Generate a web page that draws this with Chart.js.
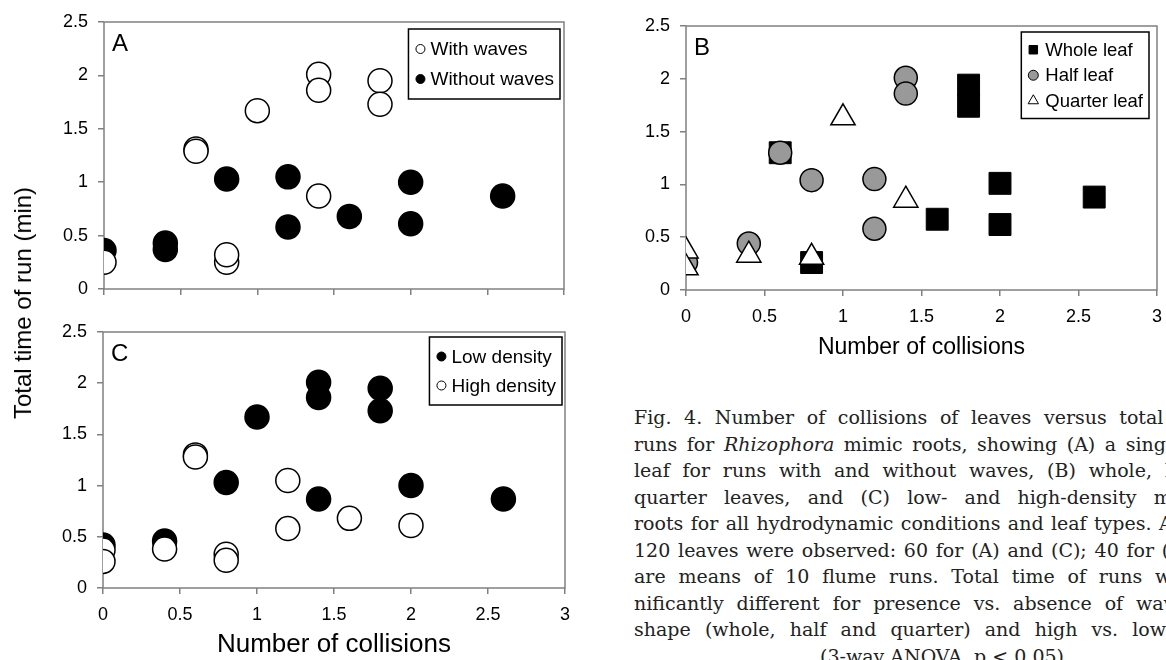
<!DOCTYPE html>
<html>
<head>
<meta charset="utf-8">
<script src="https://cdn.jsdelivr.net/npm/chart.js@4.4.1/dist/chart.umd.min.js"></script>
<style>
  body { margin: 0; width: 1166px; height: 660px; overflow: hidden; background: #fff; position: relative;
         font-family: "Liberation Sans", Arial, sans-serif; }
  canvas { position: absolute; }
  #ytitle { position: absolute; left: 23px; top: 303px; transform: translate(-50%, -50%) rotate(-90deg);
            white-space: nowrap; font-size: 24px; color: #000; }
  #caption { position: absolute; left: 634px; top: 404px; width: 616px;
             font-family: "DejaVu Serif", serif; font-size: 19px; line-height: 26.5px; color: #222; }
  #caption div { text-align: justify; text-align-last: justify; white-space: nowrap; }
  #caption div.last { text-align: center; text-align-last: center; }
</style>
</head>
<body>
<canvas id="chartA" width="556" height="310" style="left:30px;top:0px;width:556px;height:310px"></canvas>
<canvas id="chartB" width="569" height="375" style="left:610px;top:0px;width:569px;height:375px"></canvas>
<canvas id="chartC" width="557" height="356" style="left:30px;top:304px;width:557px;height:356px"></canvas>
<div id="ytitle">Total time of run (min)</div>
<div id="caption">
  <div>Fig. 4. Number of collisions of leaves versus total time of</div>
  <div>runs for <i>Rhizophora</i> mimic roots, showing (A) a single whole</div>
  <div>leaf for runs with and without waves, (B) whole, half and</div>
  <div>quarter leaves, and (C) low- and high-density mangrove</div>
  <div>roots for all hydrodynamic conditions and leaf types. A total of</div>
  <div>120 leaves were observed: 60 for (A) and (C); 40 for (B). Data</div>
  <div>are means of 10 flume runs. Total time of runs were sig-</div>
  <div>nificantly different for presence vs. absence of waves, leaf</div>
  <div>shape (whole, half and quarter) and high vs. low density</div>
  <div class="last">(3-way ANOVA, p &lt; 0.05)</div>
</div>
<script>
const xTickLabels = ['0', '0.5', '1', '1.5', '2', '2.5', '3'];
const yTickLabels = ['0', '0.5', '1', '1.5', '2', '2.5'];

// Panel A: with / without waves
const aWithX = [0, 0.6, 0.6, 0.8, 0.8, 1.0, 1.4, 1.4, 1.4, 1.8, 1.8];
const aWithY = [0.25, 1.31, 1.29, 0.25, 0.32, 1.67, 2.01, 1.86, 0.87, 1.95, 1.73];
const aWithoutX = [0, 0.4, 0.4, 0.8, 1.2, 1.2, 1.6, 2.0, 2.0, 2.6];
const aWithoutY = [0.36, 0.43, 0.37, 1.03, 1.05, 0.58, 0.68, 1.0, 0.61, 0.87];

// Panel B: leaf shape
const bWholeX = [0.6, 0.8, 1.6, 1.8, 1.8, 2.0, 2.0, 2.6];
const bWholeY = [1.30, 0.26, 0.67, 1.94, 1.74, 1.01, 0.62, 0.88];
const bHalfX = [0, 0.4, 0.6, 0.8, 1.2, 1.2, 1.4, 1.4];
const bHalfY = [0.26, 0.44, 1.30, 1.04, 1.05, 0.58, 2.01, 1.86];
const bQuarterX = [0, 0, 0.4, 0.8, 1.0, 1.4];
const bQuarterY = [0.37, 0.21, 0.33, 0.31, 1.63, 0.85];

// Panel C: root density
const cLowX = [0, 0.4, 0.8, 1.0, 1.4, 1.4, 1.4, 1.8, 1.8, 2.0, 2.6];
const cLowY = [0.42, 0.46, 1.03, 1.67, 2.01, 1.86, 0.87, 1.95, 1.73, 1.0, 0.87];
const cHighX = [0, 0, 0.4, 0.6, 0.6, 0.8, 0.8, 1.2, 1.2, 1.6, 2.0];
const cHighY = [0.37, 0.26, 0.38, 1.30, 1.28, 0.33, 0.27, 1.05, 0.58, 0.68, 0.61];

function pts(xs, ys) {
  return xs.map((x, i) => ({ x: x, y: ys[i] }));
}

const AXIS = '#808080';
const SANS = '"Liberation Sans", Arial, sans-serif';

// frame, panel letter and boxed legend
const decor = {
  id: 'decor',
  beforeDatasetsDraw(chart) {
    const { ctx, chartArea: a } = chart;
    ctx.save();
    ctx.strokeStyle = AXIS;
    ctx.lineWidth = 1.5;
    ctx.strokeRect(a.left, a.top, a.right - a.left, a.bottom - a.top);
    ctx.restore();
  },
  afterDraw(chart, args, opts) {
    const { ctx, chartArea: a } = chart;
    ctx.save();
    ctx.fillStyle = '#000';
    ctx.font = '24px ' + SANS;
    ctx.textBaseline = 'middle';
    ctx.fillText(opts.letter, a.left + 8, a.top + 22);

    ctx.font = opts.fontSize + 'px ' + SANS;
    const items = opts.items;
    let tw = 0;
    items.forEach(it => { tw = Math.max(tw, ctx.measureText(it.label).width); });
    const w = opts.markerGap + tw + 6;
    const h = items.length * opts.rowH + 10;
    const x0 = a.right - opts.right - w;
    const y0 = a.top + opts.top;
    ctx.fillStyle = '#fff';
    ctx.fillRect(x0, y0, w, h);
    ctx.strokeStyle = '#000';
    ctx.lineWidth = 1.5;
    ctx.strokeRect(x0, y0, w, h);
    items.forEach((it, i) => {
      const cy = y0 + 5 + opts.rowH * (i + 0.5);
      ctx.fillStyle = it.fill;
      ctx.strokeStyle = '#000';
      ctx.lineWidth = 1;
      Chart.helpers.drawPoint(ctx, { pointStyle: it.style, radius: it.r, rotation: 0, borderWidth: 1 }, x0 + 12, cy);
      ctx.fillStyle = '#000';
      ctx.fillText(it.label, x0 + opts.markerGap, cy + 1);
    });
    ctx.restore();
  }
};

function scales(showX, yWidth, xHeight, xTitle, titleSize, titlePad) {
  return {
    x: {
      type: 'linear', min: 0, max: 3,
      border: { display: false },
      grid: { drawOnChartArea: false, drawTicks: true, tickLength: 6, color: AXIS, lineWidth: 1.5 },
      ticks: {
        stepSize: 0.5, padding: 10, color: '#000',
        font: { size: 18, family: SANS },
        callback: (v, i) => (showX ? xTickLabels[i] : '')
      },
      title: {
        display: !!xTitle, text: xTitle || '', color: '#000', padding: { top: 0, bottom: titlePad || 0 },
        font: { size: titleSize || 23, family: SANS }
      },
      afterFit(s) { s.height = xHeight; }
    },
    y: {
      type: 'linear', min: 0, max: 2.5,
      border: { display: false },
      grid: { drawOnChartArea: false, drawTicks: true, tickLength: 6, color: AXIS, lineWidth: 1.5 },
      ticks: {
        stepSize: 0.5, padding: 10, color: '#000',
        font: { size: 18, family: SANS },
        callback: (v, i) => yTickLabels[i]
      },
      afterFit(s) { s.width = yWidth; }
    }
  };
}

function makeChart(id, datasets, sc, padding, decorOpts) {
  return new Chart(document.getElementById(id).getContext('2d'), {
    type: 'scatter',
    data: { datasets: datasets },
    options: {
      responsive: false,
      animation: false,
      layout: { padding: padding, autoPadding: false },
      scales: sc,
      plugins: { legend: { display: false }, tooltip: { enabled: false }, decor: decorOpts }
    },
    plugins: [decor]
  });
}

const openCircle = { pointStyle: 'circle', pointRadius: 12, pointBackgroundColor: '#fff', pointBorderColor: '#000', pointBorderWidth: 1.5 };
const blackCircle = { pointStyle: 'circle', pointRadius: 12, pointBackgroundColor: '#000', pointBorderColor: '#000', pointBorderWidth: 1.5 };

// chart areas: A 104-564 x 22-289, B 686-1157 x 26-290, C 103-565 x 332-588
makeChart('chartA', [
  Object.assign({ label: 'With waves', data: pts(aWithX, aWithY), order: 1 }, openCircle),
  Object.assign({ label: 'Without waves', data: pts(aWithoutX, aWithoutY), order: 2 }, blackCircle)
], scales(false, 74, 21, null), { top: 22, right: 22, bottom: 0, left: 0 }, {
  letter: 'A', right: 4, top: 7, rowH: 30, markerGap: 22, fontSize: 19,
  items: [
    { label: 'With waves', style: 'circle', r: 4.5, fill: '#fff' },
    { label: 'Without waves', style: 'circle', r: 4.5, fill: '#000' }
  ]
});

makeChart('chartB', [
  { label: 'Quarter leaf', data: pts(bQuarterX, bQuarterY), order: 1, pointStyle: 'triangle', pointRadius: 14,
    pointBackgroundColor: '#fff', pointBorderColor: '#000', pointBorderWidth: 1.5 },
  { label: 'Half leaf', data: pts(bHalfX, bHalfY), order: 2, pointStyle: 'circle', pointRadius: 11.5,
    pointBackgroundColor: '#999', pointBorderColor: '#000', pointBorderWidth: 1.5 },
  { label: 'Whole leaf', data: pts(bWholeX, bWholeY), order: 3, pointStyle: 'rect', pointRadius: 15.5,
    pointBackgroundColor: '#000', pointBorderColor: '#000', pointBorderWidth: 1 }
], scales(true, 76, 85, 'Number of collisions', 23, 14), { top: 26, right: 22, bottom: 0, left: 0 }, {
  letter: 'B', right: 8, top: 6, rowH: 25.5, markerGap: 24, fontSize: 18.5,
  items: [
    { label: 'Whole leaf', style: 'rect', r: 6, fill: '#000' },
    { label: 'Half leaf', style: 'circle', r: 5, fill: '#999' },
    { label: 'Quarter leaf', style: 'triangle', r: 6, fill: '#fff' }
  ]
});

makeChart('chartC', [
  Object.assign({ label: 'High density', data: pts(cHighX, cHighY), order: 1 }, openCircle),
  Object.assign({ label: 'Low density', data: pts(cLowX, cLowY), order: 2 }, blackCircle)
], scales(true, 73, 72, 'Number of collisions', 26, 0), { top: 28, right: 22, bottom: 0, left: 0 }, {
  letter: 'C', right: 3, top: 5, rowH: 29, markerGap: 22, fontSize: 19,
  items: [
    { label: 'Low density', style: 'circle', r: 4.5, fill: '#000' },
    { label: 'High density', style: 'circle', r: 4.5, fill: '#fff' }
  ]
});
</script>
</body>
</html>
